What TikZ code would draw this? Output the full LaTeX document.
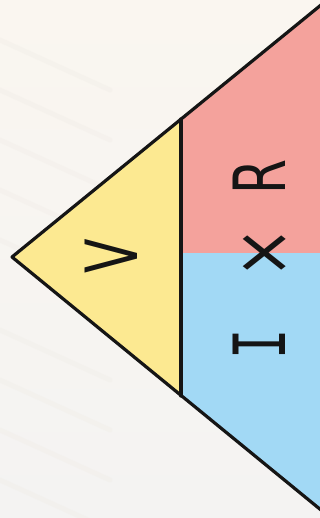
\documentclass[tikz,border=0pt]{standalone}
\usepackage{fontspec}
\setmainfont{DejaVu Sans}
\newfontfamily\monofam{DejaVu Sans Mono}
\definecolor{bgA}{HTML}{FAF6F0}
\definecolor{bgB}{HTML}{F4F3F2}
\definecolor{streak}{HTML}{EFEBE4}
\definecolor{yel}{HTML}{FCE991}
\definecolor{pnk}{HTML}{F4A29C}
\definecolor{blu}{HTML}{A2D9F5}
\definecolor{ink}{HTML}{151515}
\newcommand{\narrow}[1]{\scalebox{0.7}[1]{#1}}
\tikzset{
  edge/.style={draw=ink, line width=3.2pt, line join=round, line cap=round},
  lbl/.style={inner sep=0pt, rotate=90, text=ink, font=\fontsize{72}{72}\selectfont},
  streakline/.style={draw=streak, line width=5pt, line cap=round, opacity=0.3},
}
\begin{document}
\begin{tikzpicture}[x=1pt,y=-1pt]
\useasboundingbox (0,0) rectangle (320,518);
\clip (0,0) rectangle (320,518);
\shade[top color=bgA, bottom color=bgB] (0,0) rectangle (320,518);
\foreach \s in {40,90,140,190,240,330,380,430,480}{
  \draw[streakline] (0,\s) -- ++(110,50);
}
\coordinate (A) at (12,257);
\coordinate (T) at (332,-4);
\coordinate (B) at (332,519);
\coordinate (P) at (181,119);
\coordinate (Q) at (181,396);
\coordinate (ML) at (181,253);
\coordinate (MR) at (332,253);
\fill[yel] (A) -- (P) -- (Q) -- cycle;
\fill[pnk] (P) -- (T) -- (MR) -- (ML) -- cycle;
\fill[blu] (ML) -- (MR) -- (B) -- (Q) -- cycle;
\draw[edge] (T) -- (A) -- (B);
\draw[edge] (P) -- (Q);
\node[lbl] (v) at (111,256) {\narrow{V}};
\node[lbl] (r) at (259,177) {\narrow{R}};
\node[lbl, font=\fontsize{76}{76}\selectfont] (x) at (266,253) {\scalebox{0.8}[1]{×}};
\node[lbl, font=\monofam\fontsize{72}{72}\selectfont] (i) at (259,344) {\narrow{I}};
\end{tikzpicture}
\end{document}
